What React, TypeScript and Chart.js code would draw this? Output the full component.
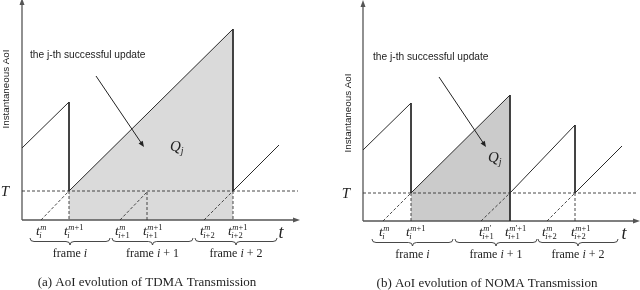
import React, { useEffect, useRef } from "react";
import { Chart, registerables } from "chart.js";
Chart.register(...registerables);

type P = { x: number; y: number };

// ---------- (a) TDMA ----------
const tdmaThreshold = 29;
const tdmaRise1: P[] = [{ x: 0, y: 72 }, { x: 47, y: 118 }];
const tdmaDrop1: P[] = [{ x: 47, y: 118 }, { x: 47, y: 29 }];
const tdmaDrop1Below: P[] = [{ x: 47, y: 29 }, { x: 47, y: 0 }];
const tdmaGen1: P[] = [{ x: 19, y: 0 }, { x: 47, y: 29 }];
const tdmaRiseQ: P[] = [{ x: 47, y: 29 }, { x: 211, y: 191 }];
const tdmaDropQ: P[] = [{ x: 211, y: 191 }, { x: 211, y: 29 }];
const tdmaDropQBelow: P[] = [{ x: 211, y: 29 }, { x: 211, y: 0 }];
const tdmaGen2: P[] = [{ x: 98, y: 0 }, { x: 125, y: 28 }];
const tdmaGen2Drop: P[] = [{ x: 125, y: 28 }, { x: 125, y: 0 }];
const tdmaGen3: P[] = [{ x: 182, y: 0 }, { x: 211, y: 29 }];
const tdmaRise3: P[] = [{ x: 211, y: 29 }, { x: 257, y: 75 }];
const tdmaTickTimes = [19, 47, 98, 126, 183, 211];
const tdmaTickSup = ["m", "m+1", "m", "m+1", "m", "m+1"];
const tdmaTickSub = ["i", "i", "i+1", "i+1", "i+2", "i+2"];
const tdmaFrames = [[8, 88], [90, 171], [173, 255]];
const tdmaFrameLabels = ["i", "i + 1", "i + 2"];
const tdmaCaption = "(a) AoI evolution of TDMA Transmission";

// ---------- (b) NOMA ----------
const nomaThreshold = 28;
const nomaRise1: P[] = [{ x: 0, y: 71 }, { x: 48, y: 118 }];
const nomaDrop1: P[] = [{ x: 48, y: 118 }, { x: 48, y: 28 }];
const nomaDrop1Below: P[] = [{ x: 48, y: 28 }, { x: 48, y: 0 }];
const nomaGen1: P[] = [{ x: 20, y: 0 }, { x: 48, y: 28 }];
const nomaRiseQ: P[] = [{ x: 48, y: 28 }, { x: 147, y: 126 }];
const nomaDropQ: P[] = [{ x: 147, y: 126 }, { x: 147, y: 0 }];
const nomaGen2: P[] = [{ x: 118, y: 0 }, { x: 147, y: 28 }];
const nomaRise2: P[] = [{ x: 147, y: 28 }, { x: 212, y: 96 }];
const nomaDrop2: P[] = [{ x: 212, y: 96 }, { x: 212, y: 28 }];
const nomaDrop2Below: P[] = [{ x: 212, y: 28 }, { x: 212, y: 0 }];
const nomaGen3: P[] = [{ x: 184, y: 0 }, { x: 212, y: 28 }];
const nomaRise3: P[] = [{ x: 212, y: 28 }, { x: 259, y: 75 }];
const nomaTickTimes = [21, 48, 121, 147, 184, 213];
const nomaTickSup = ["m", "m+1", "m\u2032", "m\u2032+1", "m", "m+1"];
const nomaTickSub = ["i", "i", "i+1", "i+1", "i+2", "i+2"];
const nomaFrames = [[9, 90], [92, 174], [175, 255]];
const nomaFrameLabels = ["i", "i + 1", "i + 2"];
const nomaCaption = "(b) AoI evolution of NOMA Transmission";

const annotationText = "the j-th successful update";
const yAxisTitle = "Instantaneous AoI";

const SERIF = '"Liberation Serif", "DejaVu Serif", serif';
const SANS = '"Liberation Sans", Arial, sans-serif';
const LINE = "#2a2a2a";
const AXIS = "#555";

type Cfg = {
  padding: { left: number; right: number; top: number; bottom: number };
  xMax: number;
  yMax: number;
  axisRight: number;
  axisTop: number;
  threshold: number;
  thresholdEnd: number;
  solid: P[][];
  dashed: P[][];
  shaded: P[];
  shadeColor: string;
  ticks: number[];
  sups: string[];
  subs: string[];
  frames: number[][];
  frameLabels: string[];
  caption: string;
  captionX: number;
  qLabel: P;
  note: P;
  arrowFrom: P;
  arrowTo: P;
  yTitle: P;
  tLabelX: number;
};

const tdmaCfg: Cfg = {
  padding: { left: 22, right: 18, top: 0, bottom: 70 },
  xMax: 280,
  yMax: 220,
  axisRight: 273,
  axisTop: 217,
  threshold: tdmaThreshold,
  thresholdEnd: 276,
  solid: [tdmaRise1, tdmaDrop1, tdmaDropQ, tdmaRise3],
  dashed: [tdmaGen1, tdmaDrop1Below, tdmaDropQBelow, tdmaGen2, tdmaGen2Drop, tdmaGen3],
  shaded: tdmaRiseQ,
  shadeColor: "#dadada",
  ticks: tdmaTickTimes,
  sups: tdmaTickSup,
  subs: tdmaTickSub,
  frames: tdmaFrames,
  frameLabels: tdmaFrameLabels,
  caption: tdmaCaption,
  captionX: 125,
  qLabel: { x: 154, y: 74 },
  note: { x: 8, y: 165 },
  arrowFrom: { x: 74, y: 144 },
  arrowTo: { x: 122, y: 73 },
  yTitle: { x: -16, y: 131 },
  tLabelX: 259,
};

const nomaCfg: Cfg = {
  padding: { left: 43, right: 3, top: 0, bottom: 69 },
  xMax: 274,
  yMax: 221,
  axisRight: 272,
  axisTop: 216,
  threshold: nomaThreshold,
  thresholdEnd: 275,
  solid: [nomaRise1, nomaDrop1, nomaDropQ, nomaRise2, nomaDrop2, nomaRise3],
  dashed: [nomaGen1, nomaDrop1Below, nomaGen2, nomaDrop2Below, nomaGen3],
  shaded: nomaRiseQ,
  shadeColor: "#cbcbcb",
  ticks: nomaTickTimes,
  sups: nomaTickSup,
  subs: nomaTickSub,
  frames: nomaFrames,
  frameLabels: nomaFrameLabels,
  caption: nomaCaption,
  captionX: 124,
  qLabel: { x: 131, y: 64 },
  note: { x: 10, y: 164 },
  arrowFrom: { x: 76, y: 144 },
  arrowTo: { x: 123, y: 74 },
  yTitle: { x: -15, y: 108 },
  tLabelX: 261,
};

// draw text where letters are italic and digits/symbols upright
function mixedWidth(ctx: CanvasRenderingContext2D, s: string, size: number) {
  let w = 0;
  for (const ch of s) {
    ctx.font = (/[a-zA-Z]/.test(ch) ? "italic " : "") + size + "px " + SERIF;
    w += ctx.measureText(ch).width;
  }
  return w;
}
function drawMixed(ctx: CanvasRenderingContext2D, s: string, x: number, y: number, size: number) {
  let cx = x;
  for (const ch of s) {
    ctx.font = (/[a-zA-Z]/.test(ch) ? "italic " : "") + size + "px " + SERIF;
    ctx.fillText(ch, cx, y);
    cx += ctx.measureText(ch).width;
  }
  return cx;
}

const diagramPlugin = {
  id: "diagram",
  afterDatasetsDraw(chart: any, _args: any, opts: any) {
    const cfg: Cfg = opts.cfg;
    const ctx: CanvasRenderingContext2D = chart.ctx;
    const sx = chart.scales.x;
    const sy = chart.scales.y;
    const X = (v: number) => sx.getPixelForValue(v);
    const Y = (v: number) => sy.getPixelForValue(v);
    ctx.save();
    ctx.fillStyle = "#222";
    ctx.strokeStyle = LINE;
    ctx.textBaseline = "alphabetic";

    // axis arrowheads
    const ax = X(cfg.axisRight), ay = Y(0);
    ctx.fillStyle = AXIS;
    ctx.beginPath();
    ctx.moveTo(ax + 5, ay);
    ctx.lineTo(ax - 2, ay - 2.5);
    ctx.lineTo(ax - 2, ay + 2.5);
    ctx.closePath();
    ctx.fill();
    const tx = X(0), ty = Y(cfg.axisTop);
    ctx.beginPath();
    ctx.moveTo(tx, ty - 5);
    ctx.lineTo(tx - 2.5, ty + 2);
    ctx.lineTo(tx + 2.5, ty + 2);
    ctx.closePath();
    ctx.fill();

    ctx.fillStyle = "#222";
    // T label
    ctx.font = "italic 15px " + SERIF;
    ctx.textAlign = "center";
    ctx.fillText("T", X(-17), Y(cfg.threshold) + 5);

    // t axis label
    ctx.font = "italic 18px " + SERIF;
    ctx.fillText("t", X(cfg.tLabelX), Y(0) + 18);

    // tick labels
    ctx.textAlign = "left";
    cfg.ticks.forEach((t, i) => {
      const bx = X(t) - 5;
      const by = Y(0) + 15;
      ctx.font = "italic 13.5px " + SERIF;
      ctx.fillText("t", bx, by);
      const w = ctx.measureText("t").width;
      drawMixed(ctx, cfg.sups[i], bx + w + 0.5, by - 5, 8.5);
      drawMixed(ctx, cfg.subs[i], bx + w - 0.5, by + 3, 8.5);
    });

    // braces and frame labels
    ctx.lineWidth = 0.9;
    ctx.strokeStyle = "#333";
    cfg.frames.forEach(([a, b], i) => {
      const x1 = X(a), x2 = X(b), mid = (x1 + x2) / 2;
      const y0 = Y(0) + 18, h = 7, r = 4;
      ctx.beginPath();
      ctx.moveTo(x1, y0);
      ctx.quadraticCurveTo(x1, y0 + h / 2, x1 + r, y0 + h / 2);
      ctx.lineTo(mid - r, y0 + h / 2);
      ctx.quadraticCurveTo(mid, y0 + h / 2, mid, y0 + h);
      ctx.quadraticCurveTo(mid, y0 + h / 2, mid + r, y0 + h / 2);
      ctx.lineTo(x2 - r, y0 + h / 2);
      ctx.quadraticCurveTo(x2, y0 + h / 2, x2, y0);
      ctx.stroke();
      // label
      ctx.font = "12px " + SERIF;
      const pre = "frame ";
      const w1 = ctx.measureText(pre).width;
      const w2 = mixedWidth(ctx, cfg.frameLabels[i], 12);
      let lx = mid - (w1 + w2) / 2;
      const ly = Y(0) + 37;
      ctx.font = "12px " + SERIF;
      ctx.fillText(pre, lx, ly);
      drawMixed(ctx, cfg.frameLabels[i], lx + w1, ly, 12);
    });

    // caption
    ctx.font = "13px " + SERIF;
    ctx.textAlign = "center";
    ctx.fillText(cfg.caption, X(cfg.captionX), Y(0) + 66);

    // Q_j
    ctx.textAlign = "left";
    ctx.font = "italic 15px " + SERIF;
    const qx = X(cfg.qLabel.x) - 6, qy = Y(cfg.qLabel.y) + 5;
    ctx.fillText("Q", qx, qy);
    const qw = ctx.measureText("Q").width;
    ctx.font = "italic 10px " + SERIF;
    ctx.fillText("j", qx + qw, qy + 3);

    // annotation text
    ctx.font = "10.2px " + SANS;
    ctx.fillStyle = "#222";
    ctx.fillText(annotationText, X(cfg.note.x), Y(cfg.note.y) + 3);

    // annotation arrow
    const fx = X(cfg.arrowFrom.x), fy = Y(cfg.arrowFrom.y);
    const ex = X(cfg.arrowTo.x), ey = Y(cfg.arrowTo.y);
    const ang = Math.atan2(ey - fy, ex - fx);
    ctx.strokeStyle = "#222";
    ctx.lineWidth = 1;
    ctx.beginPath();
    ctx.moveTo(fx, fy);
    ctx.lineTo(ex - 4 * Math.cos(ang), ey - 4 * Math.sin(ang));
    ctx.stroke();
    ctx.beginPath();
    ctx.moveTo(ex, ey);
    ctx.lineTo(ex - 6 * Math.cos(ang) + 2.5 * Math.sin(ang), ey - 6 * Math.sin(ang) - 2.5 * Math.cos(ang));
    ctx.lineTo(ex - 6 * Math.cos(ang) - 2.5 * Math.sin(ang), ey - 6 * Math.sin(ang) + 2.5 * Math.cos(ang));
    ctx.closePath();
    ctx.fill();

    // y axis title
    ctx.save();
    ctx.translate(X(cfg.yTitle.x), Y(cfg.yTitle.y));
    ctx.rotate(-Math.PI / 2);
    ctx.textAlign = "center";
    ctx.font = "9.8px " + SANS;
    ctx.fillText(yAxisTitle, 0, 3);
    ctx.restore();

    ctx.restore();
  },
};

function buildConfig(cfg: Cfg): any {
  const seg = (data: P[], dashed: boolean, color = LINE, width = 1) => ({
    data,
    showLine: true,
    pointRadius: 0,
    borderColor: color,
    borderWidth: width,
    borderDash: dashed ? [3, 2] : [],
    fill: false,
    clip: false,
  });
  const datasets: any[] = [];
  cfg.solid.forEach((d) => datasets.push(seg(d, false)));
  cfg.dashed.forEach((d) => datasets.push(seg(d, true, "#333", 0.9)));
  datasets.push(
    seg([{ x: 0, y: cfg.threshold }, { x: cfg.thresholdEnd, y: cfg.threshold }], true, "#333", 0.9)
  );
  datasets.push(seg([{ x: 0, y: 0 }, { x: cfg.axisRight, y: 0 }], false, AXIS, 1.3));
  datasets.push(seg([{ x: 0, y: 0 }, { x: 0, y: cfg.axisTop }], false, AXIS, 1.3));
  datasets.push({
    data: cfg.shaded,
    showLine: true,
    pointRadius: 0,
    borderColor: LINE,
    borderWidth: 1,
    fill: "origin",
    backgroundColor: cfg.shadeColor,
    clip: false,
  });
  return {
    type: "scatter",
    data: { datasets },
    plugins: [diagramPlugin],
    options: {
      responsive: false,
      animation: false,
      events: [],
      layout: { padding: cfg.padding },
      scales: {
        x: { type: "linear", display: false, min: 0, max: cfg.xMax },
        y: { type: "linear", display: false, min: 0, max: cfg.yMax },
      },
      plugins: {
        legend: { display: false },
        tooltip: { enabled: false },
        diagram: { cfg },
      },
    },
  };
}

function Diagram({ cfg }: { cfg: Cfg }) {
  const ref = useRef<HTMLCanvasElement>(null);
  useEffect(() => {
    const chart = new Chart(ref.current as HTMLCanvasElement, buildConfig(cfg));
    return () => chart.destroy();
  }, [cfg]);
  return (
    <canvas
      ref={ref}
      width={320}
      height={290}
      style={{ display: "block", width: 320, height: 290 }}
    />
  );
}

export default function App() {
  return (
    <div
      style={{
        position: "fixed",
        left: 0,
        top: 0,
        width: 640,
        height: 290,
        display: "flex",
        background: "#fff",
      }}
    >
      <Diagram cfg={tdmaCfg} />
      <Diagram cfg={nomaCfg} />
    </div>
  );
}
